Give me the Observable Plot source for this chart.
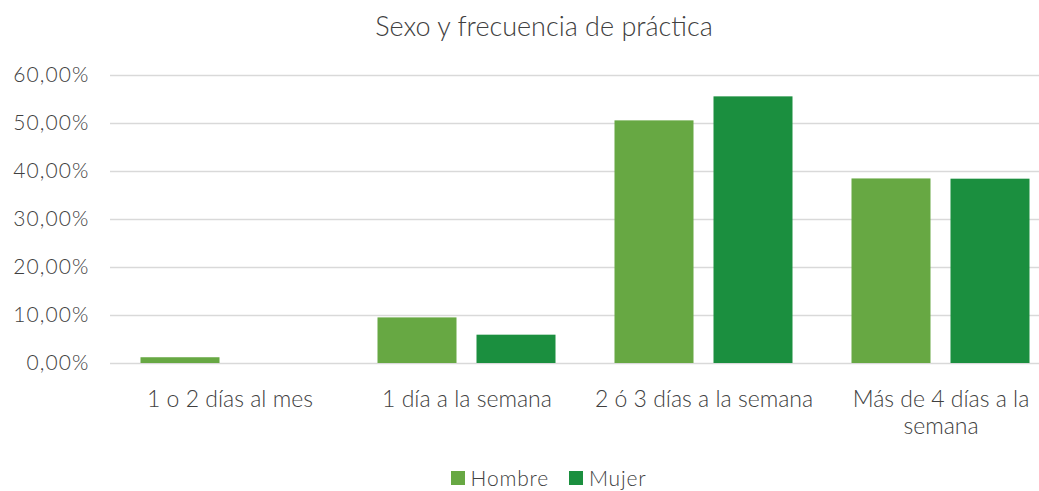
<!DOCTYPE html>
<html>
<head>
<meta charset="utf-8">
<script src="https://cdn.jsdelivr.net/npm/d3@7"></script>
<script src="https://cdn.jsdelivr.net/npm/@observablehq/plot@0.6"></script>
<style>
  body { margin: 0; background: #fff; font-family: Lato, "Open Sans", sans-serif; font-weight: 300; color: #595959; }
  #title { height: 50px; box-sizing: border-box; padding-top: 10px; padding-left: 49px; text-align: center; font-size: 27px; font-weight: 300; color: #404040; line-height: 32px; }
  #legend { display: flex; justify-content: center; align-items: center; gap: 20px; padding-left: 58px; height: 55px; font-size: 21px; letter-spacing: 0.8px; color: #404040; }
  .item { display: flex; align-items: center; gap: 6px; }
  .sw { width: 14px; height: 14px; display: inline-block; }
  g[aria-label="y-axis tick label"] text { letter-spacing: 1.1px; }
</style>
</head>
<body>
<div id="title">Sexo y frecuencia de práctica</div>
<div id="chart"></div>
<div id="legend"></div>
<script>
const categories = ["1 o 2 días al mes", "1 día a la semana", "2 ó 3 días a la semana", "Más de 4 días a la semana"];
const categoryLabels = ["1 o 2 días al mes", "1 día a la semana", "2 ó 3 días a la semana", "Más de 4 días a la\nsemana"];
const series = ["Hombre", "Mujer"];
const hombre = [0.012, 0.095, 0.5055, 0.3845];
const mujer = [0.0, 0.059, 0.5555, 0.384];
const colors = ["#67A843", "#1B8F3F"];
const yTicks = [0, 0.1, 0.2, 0.3, 0.4, 0.5, 0.6];

const locale = d3.formatLocale({decimal: ",", thousands: ".", grouping: [3], currency: ["", "€"]});
const pct = locale.format(".2%");
const labelOf = new Map(categories.map((c, i) => [c, categoryLabels[i]]));

const hData = categories.map((c, i) => ({cat: c, v: hombre[i]}));
const mData = categories.map((c, i) => ({cat: c, v: mujer[i]})).filter(d => d.v > 0);

const chart = Plot.plot({
  width: 1039,
  height: 400,
  marginLeft: 110,
  marginRight: 0,
  marginTop: 25,
  marginBottom: 87,
  style: {fontFamily: "Lato, 'Open Sans', sans-serif", fontSize: "19px", fontWeight: 300, color: "#404040", background: "transparent"},
  x: {type: "band", domain: categories, range: [110.5, 1058.5], padding: 0},
  y: {domain: [0, 0.6]},
  marks: [
    Plot.ruleY(yTicks, {stroke: "#d9d9d9", strokeWidth: 1.3}),
    Plot.barY(hData, {x: "cat", y: "v", fill: colors[0], insetLeft: 29.5, insetRight: 128.5}),
    Plot.barY(mData, {x: "cat", y: "v", fill: colors[1], insetLeft: 128.5, insetRight: 29.5}),
    Plot.axisY({ticks: yTicks, tickFormat: pct, tickSize: 0, tickPadding: 21, fontSize: 21, fill: "#404040", label: null}),
    Plot.axisX({tickFormat: d => labelOf.get(d), tickSize: 0, tickPadding: 24, fontSize: 23, lineHeight: 1.17, fill: "#404040", label: null})
  ]
});
document.getElementById("chart").appendChild(chart);

const legend = document.getElementById("legend");
series.forEach((s, i) => {
  const item = document.createElement("span");
  item.className = "item";
  const sw = document.createElement("span");
  sw.className = "sw";
  sw.style.background = colors[i];
  const t = document.createElement("span");
  t.textContent = s;
  item.appendChild(sw);
  item.appendChild(t);
  legend.appendChild(item);
});
</script>
</body>
</html>
